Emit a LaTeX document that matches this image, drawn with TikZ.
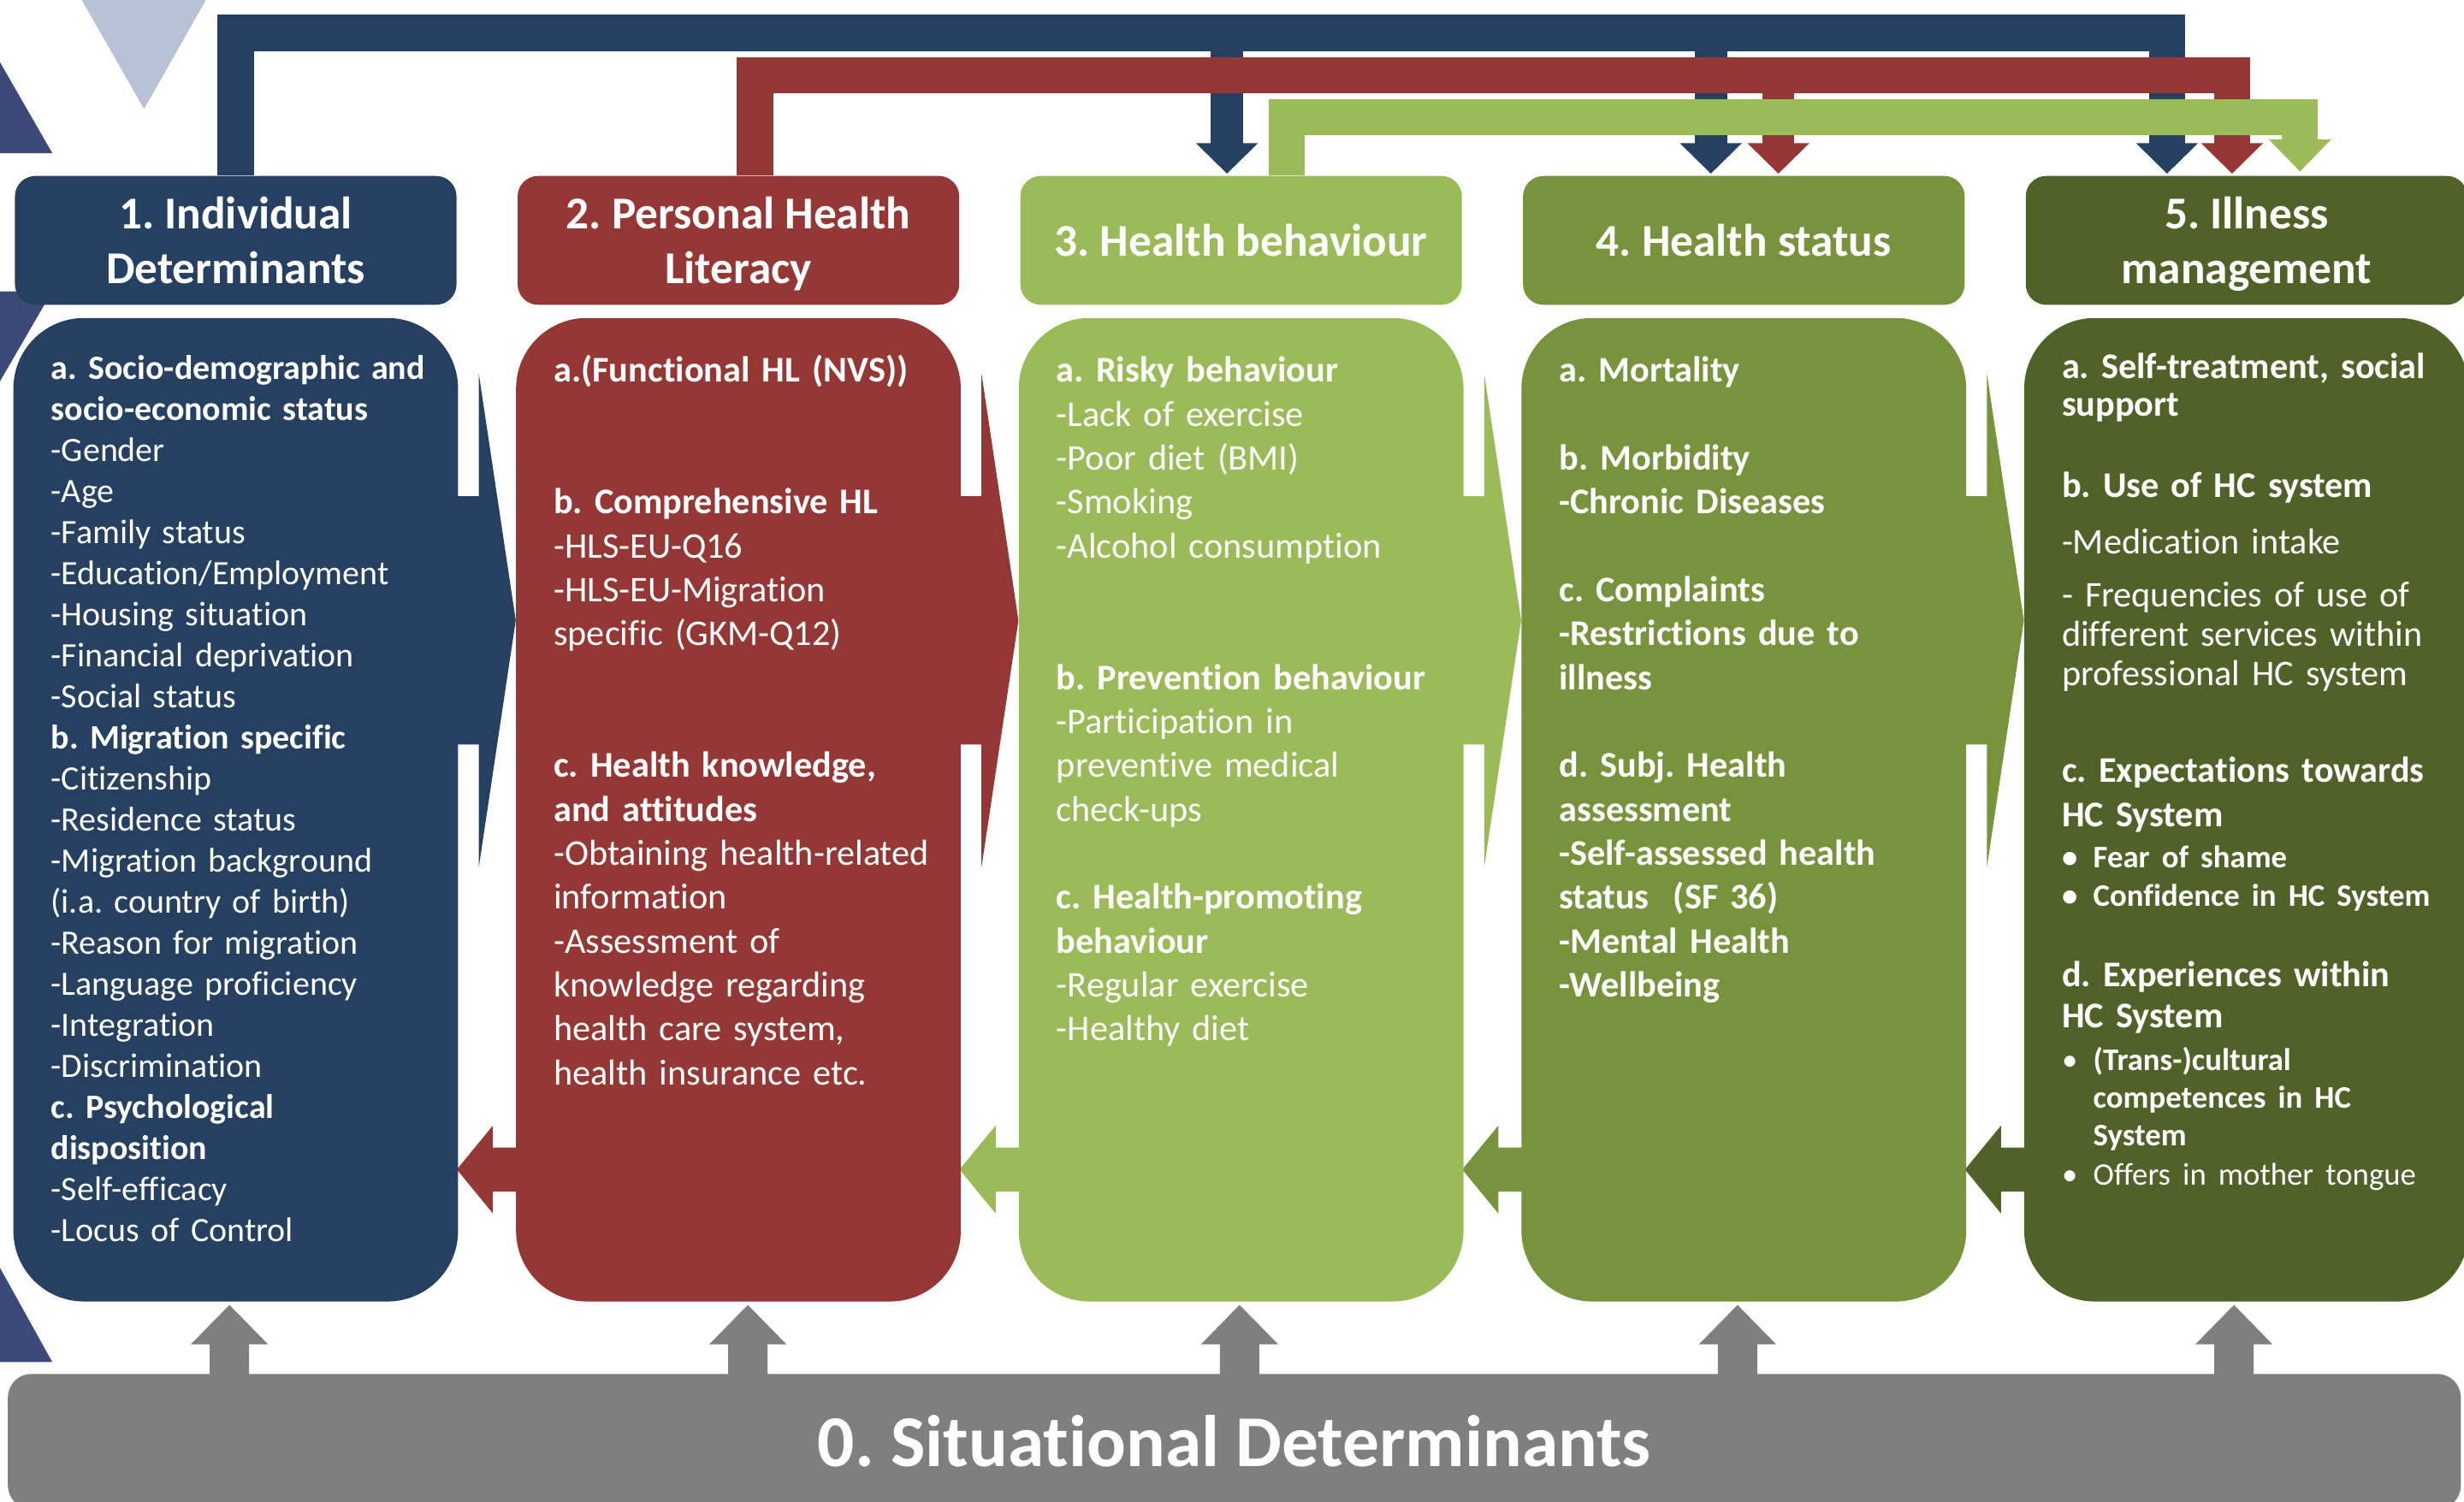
\documentclass[tikz,border=0pt]{standalone}
\usepackage{fontspec}
\setmainfont{Carlito}[Ligatures=NoCommon]
\usetikzlibrary{positioning}
\usetikzlibrary{calc}
\usetikzlibrary{backgrounds}

\definecolor{navyblue}{HTML}{264061}
\definecolor{darkred}{HTML}{953735}
\definecolor{lightgreen}{HTML}{9BBB59}
\definecolor{midgreen}{HTML}{77933C}
\definecolor{darkgreen}{HTML}{4F6228}
\definecolor{situgrey}{HTML}{7F7F7F}
\definecolor{palesteel}{HTML}{B8C2D7}
\definecolor{slateblue}{HTML}{3B4A78}

\tikzset{
	head/.style={fill=#1, rounded corners=13pt, minimum width=281pt,
		minimum height=82pt, inner sep=0pt, text=white, align=center,
		font={\fontsize{29}{35}\selectfont\bfseries}},
	body/.style={fill=#1, rounded corners=45pt, minimum width=283pt,
		minimum height=626pt, inner sep=0pt},
	coltext/.style={anchor=base west, text=white, text width=270pt,
		align=left, inner sep=0pt},
	sitbar/.style={fill=situgrey, rounded corners=15pt, minimum width=1561pt,
		minimum height=86pt, inner sep=0pt, text=white,
		font={\fontsize{46.5}{56}\selectfont\bfseries}},
	rail/.style={draw=#1, line width=23pt}
}

\begin{document}
\frenchspacing
\begin{tikzpicture}[x=1pt, y=-1pt]
			\useasboundingbox (0,0) rectangle (1568,956);
			
			% column heads
			\node[head=navyblue] (h1) at (150,153) {1. Individual\\Determinants};
			\node[head=darkred, right=38.5pt of h1] (h2) {2. Personal Health\\\smash{Literacy}};
			\node[head=lightgreen, right=38.5pt of h2] (h3) {3. Health behaviour};
			\node[head=midgreen, right=38.5pt of h3] (h4) {4. Health status};
			\node[head=darkgreen, right=38.5pt of h4] (h5) {5. Illness\\\smash{management}};
			
			% column bodies
			\node[body=navyblue, below=8pt of h1] (b1) {};
			\node[body=darkred, below=8pt of h2] (b2) {};
			\node[body=lightgreen, below=8pt of h3] (b3) {};
			\node[body=midgreen, below=8pt of h4] (b4) {};
			\node[body=darkgreen, below=8pt of h5] (b5) {};
			
			\node[sitbar] (sit) at (785.5,917.5) {0. Situational Determinants};
			
			% column texts
			\node[coltext, font={\fontsize{21.75}{26.14}\selectfont}] (t1)
			at ($(b1.north west)+(24,39)$) {%
				\textbf{a. Socio-demographic and}\\
				\textbf{socio-economic status}\\
				-Gender\\
				-Age\\
				-Family status\\
				-Education/Employment\\
				-Housing situation\\
				-Financial deprivation\\
				-Social status\\
				\textbf{b. Migration specific}\\
				-Citizenship\\
				-Residence status\\
				-Migration background\\
				(i.a. country of birth)\\
				-Reason for migration\\
				-Language proficiency\\
				-Integration\\
				-Discrimination\\
				\textbf{c. Psychological}\\
				\textbf{disposition}\\
				-Self-efficacy\\
				-Locus of Control};
			\node[coltext, font={\fontsize{23}{27.95}\selectfont}] (t2)
			at ($(b2.north west)+(24,41)$) {%
				\textbf{a.(Functional HL (NVS))}\\[55.9pt]
				\textbf{b. Comprehensive HL}\\
				-HLS-EU-Q16\\
				-HLS-EU-Migration\\
				specific (GKM-Q12)\\[55.9pt]
				\textbf{c. Health knowledge,}\\
				\textbf{and attitudes}\\
				-Obtaining health-related\\
				information\\
				-Assessment of\\
				knowledge regarding\\
				health care system,\\
				health insurance etc.};
			\node[coltext, font={\fontsize{23}{27.95}\selectfont}] (t3)
			at ($(b3.north west)+(24,41)$) {%
				\textbf{a. Risky behaviour}\\
				-Lack of exercise\\
				-Poor diet (BMI)\\
				-Smoking\\
				-Alcohol consumption\\[55.9pt]
				\textbf{b. Prevention behaviour}\\
				-Participation in\\
				preventive medical\\
				check-ups\\[27.95pt]
				\textbf{c. Health-promoting}\\
				\textbf{behaviour}\\
				-Regular exercise\\
				-Healthy diet};
			\node[coltext, font={\fontsize{23}{27.95}\selectfont\bfseries}] (t4)
			at ($(b4.north west)+(24,41)$) {%
				a. Mortality\\[27.95pt]
				b. Morbidity\\
				-Chronic Diseases\\[27.95pt]
				c. Complaints\\
				-Restrictions due to\\
				illness\\[27.95pt]
				d. Subj. Health\\
				assessment\\
				-Self-assessed health\\
				status~~(SF 36)\\
				-Mental Health\\
				-Wellbeing};
			\node[coltext, font={\fontsize{23}{24}\selectfont}] (t5)
			at ($(b5.north west)+(24,38.5)$) {%
				\textbf{a. Self-treatment, social}\\
				\textbf{support}\\[27.7pt]
				\textbf{b. Use of HC system}\\[11.9pt]
				-Medication intake\\[10.1pt]
				- Frequencies of use of\\[1pt]
				different services within\\[1pt]
				professional HC system\\[37.7pt]
				\textbf{c. Expectations towards}\\[4pt]
				\textbf{HC System}\\[2pt]
				{\fontsize{20}{24}\selectfont\bfseries
					\makebox[20pt][l]{\textbullet}Fear of shame\\[1pt]
					\makebox[20pt][l]{\textbullet}Confidence in HC System}\\[27pt]
				\textbf{d. Experiences within}\\[2pt]
				\textbf{HC System}\\[3pt]
				{\fontsize{20}{24}\selectfont
					\makebox[20pt][l]{\textbullet}\textbf{(Trans-)cultural}\\
					\hspace*{20pt}\textbf{competences in HC}\\
					\hspace*{20pt}\textbf{System}\\[1pt]
					\makebox[20pt][l]{\textbullet}Offers in mother tongue}};
			
			% feedback rails over the heads
			\coordinate (navyrail) at (0,21);
			\coordinate (redrail) at (0,48);
			\coordinate (greenrail) at (0,74.5);
			\coordinate (n3) at ($(h3.north)+(-9,-1.3)$);
			\coordinate (n4) at ($(h4.north)+(-21,-1.3)$);
			\coordinate (n5) at ($(h5.north)+(-50.6,-1.3)$);
			\coordinate (r4) at ($(h4.north)+(22,-1.3)$);
			\coordinate (r5) at ($(h5.north)+(-9.2,-1.3)$);
			\coordinate (g5) at ($(h5.north)+(34,-2.7)$);
			
			\draw[rail=navyblue] (h1.north) |- (navyrail -| n5) -- ($(n5)+(0,-19)$);
			\draw[rail=navyblue, line width=20.5pt] (n3 |- navyrail) -- ($(n3)+(0,-19)$);
			\draw[rail=navyblue, line width=20.5pt] (n4 |- navyrail) -- ($(n4)+(0,-19)$);
			\fill[navyblue] (n3) -- ++(-19.75,-19.4) -- ++(39.5,0) -- cycle;
			\fill[navyblue] (n4) -- ++(-19.75,-19.4) -- ++(39.5,0) -- cycle;
			\fill[navyblue] (n5) -- ++(-19.75,-19.4) -- ++(39.5,0) -- cycle;
			
			\draw[rail=darkred] ($(h2.north)+(10.5,0)$) |- (redrail -| r5) -- ($(r5)+(0,-19)$);
			\draw[rail=darkred, line width=20.5pt] ($(r4 |- redrail)+(0,-11.5)$) -- ($(r4)+(0,-19)$);
			\fill[darkred] (r4) -- ++(-19.75,-19.4) -- ++(39.5,0) -- cycle;
			\fill[darkred] (r5) -- ++(-19.75,-19.4) -- ++(39.5,0) -- cycle;
			
			\draw[rail=lightgreen] ($(h3.north)+(29,0)$) |- (greenrail -| g5) -- ($(g5)+(0,-19)$);
			\fill[lightgreen] (g5) -- ++(-19.75,-20.3) -- ++(39.5,0) -- cycle;
			
			% situational determinants feed every column
			\fill[situgrey] ($(b1.south)+(-4,2)$) -- ++(24.5,25) -- ++(-12,0) -- ++(0,25) -- ++(-25,0) -- ++(0,-25) -- ++(-12,0) -- cycle;
			\fill[situgrey] ($(b2.south)+(6,2)$) -- ++(24.5,25) -- ++(-12,0) -- ++(0,25) -- ++(-25,0) -- ++(0,-25) -- ++(-12,0) -- cycle;
			\fill[situgrey] ($(b3.south)+(-1,2)$) -- ++(24.5,25) -- ++(-12,0) -- ++(0,25) -- ++(-25,0) -- ++(0,-25) -- ++(-12,0) -- cycle;
			\fill[situgrey] ($(b4.south)+(-4,2)$) -- ++(24.5,25) -- ++(-12,0) -- ++(0,25) -- ++(-25,0) -- ++(0,-25) -- ++(-12,0) -- cycle;
			\fill[situgrey] ($(b5.south)+(-8,2)$) -- ++(24.5,25) -- ++(-12,0) -- ++(0,25) -- ++(-25,0) -- ++(0,-25) -- ++(-12,0) -- cycle;
			
			\begin{scope}[on background layer]
				% corner shapes
				\fill[palesteel] (52,0) -- (131,0) -- (91.7,69.4) -- cycle;
				\fill[slateblue] (0,39.6) -- (33.3,97.5) -- (0,97.5) -- cycle;
				\fill[slateblue] (0,185.4) -- (33.2,185.4) -- (0,242.7) -- cycle;
				\fill[slateblue] (0,807) -- (33.3,867) -- (0,867) -- cycle;
				
				% forward arrows
				\fill[navyblue] ($(b1.east)+(-10,-199.5)$) -- ++(23,0) -- ++(0,-78) -- ($(b2.west)+(0,-120.5)$) -- ($(b1.east)+(13,36.5)$) -- ++(0,-78) -- ++(-23,0) -- cycle;
				\fill[darkred] ($(b2.east)+(-10,-199.5)$) -- ++(23,0) -- ++(0,-78) -- ($(b3.west)+(0,-120.5)$) -- ($(b2.east)+(13,36.5)$) -- ++(0,-78) -- ++(-23,0) -- cycle;
				\fill[lightgreen] ($(b3.east)+(-10,-199.5)$) -- ++(23,0) -- ++(0,-78) -- ($(b4.west)+(0,-120.5)$) -- ($(b3.east)+(13,36.5)$) -- ++(0,-78) -- ++(-23,0) -- cycle;
				\fill[midgreen] ($(b4.east)+(-10,-199.5)$) -- ++(23,0) -- ++(0,-78) -- ($(b5.west)+(0,-120.5)$) -- ($(b4.east)+(13,36.5)$) -- ++(0,-78) -- ++(-23,0) -- cycle;
				
				% backward arrows
				\fill[darkred] ($(b1.east)+(-1,229)$) -- ++(23,-28) -- ++(0,14) -- ($(b2.west)+(10,215)$) -- ++(0,28) -- ($(b1.east)+(22,243)$) -- ++(0,14) -- cycle;
				\fill[lightgreen] ($(b2.east)+(-1,229)$) -- ++(23,-28) -- ++(0,14) -- ($(b3.west)+(10,215)$) -- ++(0,28) -- ($(b2.east)+(22,243)$) -- ++(0,14) -- cycle;
				\fill[midgreen] ($(b3.east)+(-1,229)$) -- ++(23,-28) -- ++(0,14) -- ($(b4.west)+(10,215)$) -- ++(0,28) -- ($(b3.east)+(22,243)$) -- ++(0,14) -- cycle;
				\fill[darkgreen] ($(b4.east)+(-1,229)$) -- ++(23,-28) -- ++(0,14) -- ($(b5.west)+(10,215)$) -- ++(0,28) -- ($(b4.east)+(22,243)$) -- ++(0,14) -- cycle;
			\end{scope}
		\end{tikzpicture}
\end{document}
